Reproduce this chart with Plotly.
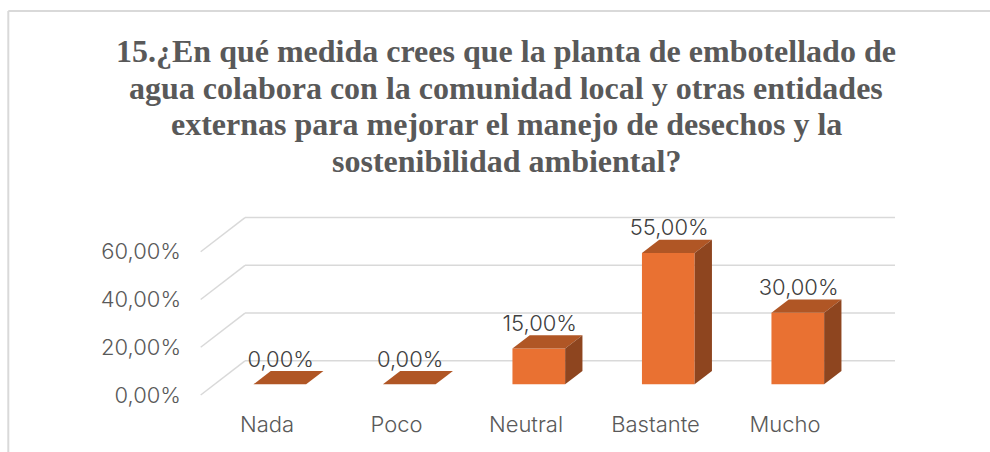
import plotly.graph_objects as go

categories = ["Nada", "Poco", "Neutral", "Bastante", "Mucho"]
values = [0, 0, 15, 55, 30]
value_labels = ["0,00%", "0,00%", "15,00%", "55,00%", "30,00%"]
grid_values = [0, 20, 40, 60]
grid_labels = ["0,00%", "20,00%", "40,00%", "60,00%"]
title_lines = [
    "15.¿En qué medida crees que la planta de embotellado de",
    "agua colabora con la comunidad local y otras entidades",
    "externas para mejorar el manejo de desechos y la",
    "sostenibilidad ambiental?",
]

W, H = 990, 452
L, R, T, B = 182.0, 910.0, 205.0, 409.0   # plot box
STEP = 129.5      # px per category
PPV = 2.387       # px per percentage point
X0 = 279.8        # px of the first category
Y0 = 384.3        # px of value 0 on the bars' front plane
HALF = 0.2035     # half bar width (categories)
DX = 17.3 / STEP  # bar depth
DY = 13.3 / PPV
GRID_FRONT_X = (200.7 - X0) / STEP
GRID_BACK_X0 = (245.0 - X0) / STEP
GRID_BACK_X1 = (895.0 - X0) / STEP
GRID_FRONT_OFF = (Y0 - 395.0) / PPV
GRID_BACK_OFF = (Y0 - 360.8) / PPV

FRONT, TOP, SIDE = "#E97132", "#B05625", "#8E451F"
GRID = "#D9D9D9"
TEXT = "#595959"
FONT = "Inter"
FS = 22

xr = [(L - X0) / STEP, (R - X0) / STEP]
yr = [(Y0 - B) / PPV, (Y0 - T) / PPV]
LABEL_X0 = 267.0
LABEL_Y0 = 394.8
xr2 = [(L - LABEL_X0) / STEP, (R - LABEL_X0) / STEP]
yr2 = [(LABEL_Y0 - B) / PPV, (LABEL_Y0 - T) / PPV]

idx = list(range(len(categories)))
fig = go.Figure()

fig.add_trace(go.Bar(x=idx, y=values, width=2 * HALF, marker=dict(color=FRONT, line=dict(width=0)),
                     hoverinfo="skip", showlegend=False))

for i, v in zip(idx, values):
    left, right = i - HALF, i + HALF
    fig.add_trace(go.Scatter(
        x=[left, right, right + DX, left + DX, left],
        y=[v, v, v + DY, v + DY, v],
        mode="lines", fill="toself", fillcolor=TOP, line=dict(width=0),
        hoverinfo="skip", showlegend=False))
    if v > 0:
        fig.add_trace(go.Scatter(
            x=[right, right + DX, right + DX, right, right],
            y=[0, DY, v + DY, v, 0],
            mode="lines", fill="toself", fillcolor=SIDE, line=dict(width=0),
            hoverinfo="skip", showlegend=False))

fig.add_trace(go.Scatter(
    x=[i + DX / 2 - 0.06 for i in idx],
    y=[v + DY + 10 / PPV for v in values],
    mode="text", text=value_labels, textposition="middle center",
    textfont=dict(family=FONT, size=FS, color="#404040", weight=300),
    hoverinfo="skip", showlegend=False))

fig.add_trace(go.Scatter(x=idx, y=[0] * len(idx), xaxis="x2", yaxis="y2", mode="none",
                         hoverinfo="skip", showlegend=False))


def px(x):
    return (x - L) / (R - L)


def py(y):
    return (B - y) / (B - T)


shapes = []
for g in grid_values:
    shapes.append(dict(type="line", xref="x", yref="y", layer="below",
                       x0=GRID_FRONT_X, y0=g + GRID_FRONT_OFF, x1=GRID_BACK_X0, y1=g + GRID_BACK_OFF,
                       line=dict(color=GRID, width=1.5)))
    shapes.append(dict(type="line", xref="x", yref="y", layer="below",
                       x0=GRID_BACK_X0, y0=g + GRID_BACK_OFF, x1=GRID_BACK_X1, y1=g + GRID_BACK_OFF,
                       line=dict(color=GRID, width=1.5)))
# chart frame
shapes.append(dict(type="line", xref="paper", yref="paper", x0=px(8.3), x1=px(W), y0=py(11), y1=py(11),
                   line=dict(color=GRID, width=2)))
shapes.append(dict(type="line", xref="paper", yref="paper", x0=px(8.3), x1=px(8.3), y0=py(11), y1=py(H),
                   line=dict(color=GRID, width=2)))

TITLE_CENTER_X = 506
TITLE_LINE_Y = [51, 87.5, 124, 161]
annotations = [
    dict(text=t, xref="paper", yref="paper", x=px(TITLE_CENTER_X), y=py(yy), xanchor="center", yanchor="middle",
         showarrow=False, font=dict(family="Liberation Serif", size=32, color=TEXT, weight="bold"))
    for t, yy in zip(title_lines, TITLE_LINE_Y)
]

tick_font = dict(family=FONT, size=FS, color=TEXT, weight=300)
fig.update_layout(
    width=W, height=H,
    margin=dict(l=L, r=W - R, t=T, b=H - B, pad=0, autoexpand=False),
    paper_bgcolor="white", plot_bgcolor="rgba(0,0,0,0)",
    showlegend=False, barmode="overlay",
    xaxis=dict(range=xr, visible=False, fixedrange=True),
    yaxis=dict(range=yr, visible=False, fixedrange=True),
    xaxis2=dict(range=xr2, overlaying="x", anchor="y2", side="bottom", tickmode="array", tickvals=idx,
                ticktext=categories, showgrid=False, zeroline=False, showline=False, ticks="",
                ticklen=0, tickfont=tick_font, fixedrange=True),
    yaxis2=dict(range=yr2, overlaying="y", anchor="x2", side="left", tickmode="array", tickvals=grid_values,
                ticktext=grid_labels, showgrid=False, zeroline=False, showline=False, ticks="",
                ticklen=0, tickfont=tick_font, fixedrange=True),
    shapes=shapes,
    annotations=annotations,
)
fig.write_html("out.html", config={"displayModeBar": False},
               post_script="document.body.style.margin='0';")
